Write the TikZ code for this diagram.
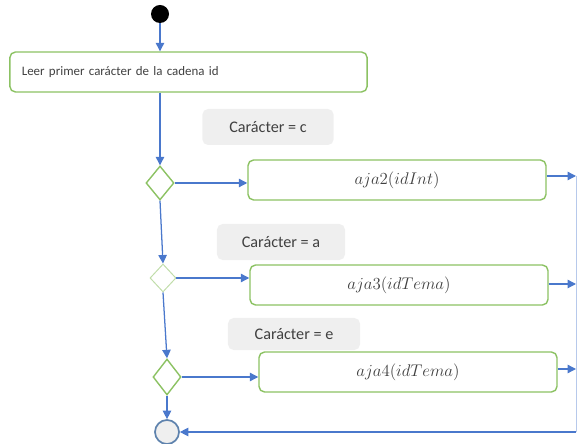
\documentclass[tikz,border=0pt]{standalone}
\usepackage{fontspec}
\setmainfont{Carlito}
\usetikzlibrary{shapes.geometric,arrows.meta}

\definecolor{actgreen}{HTML}{8CC263}
\definecolor{flowblue}{HTML}{4A78CC}
\definecolor{guardgray}{HTML}{EFEFEF}
\definecolor{endblue}{HTML}{5E82AD}
\definecolor{inkgray}{HTML}{404040}

\begin{document}
\begin{tikzpicture}[x=0.025cm, y=-0.025cm,
    action/.style={draw=actgreen, line width=1pt, rounded corners=4pt, fill=white,
        minimum width=7.45cm, minimum height=1cm, text=inkgray,
        font=\fontsize{12}{14}\selectfont},
    guard/.style={fill=guardgray, rounded corners=4pt, minimum height=0.9cm,
        text=inkgray, font=\fontsize{11.5}{13}\selectfont},
    decision/.style={diamond, draw=actgreen, line width=1pt, inner sep=0pt,
        minimum width=0.7cm, minimum height=0.85cm},
    flow/.style={draw=flowblue, line width=0.9pt, -{Triangle[length=6pt,width=6pt]}}]
    \useasboundingbox (0,0) rectangle (578,444);

    % Draw start and first action
    \node[circle, fill=black, minimum size=0.45cm, inner sep=0pt] (start) at (160,14) {};
    \node[action, minimum width=8.93cm, text width=8.33cm, align=left,
        font=\fontsize{9.2}{11}\selectfont] (leer) at (188.5,72) {Leer primer carácter de la cadena id};

    % Draw decisions and end
    \node[decision] (d1) at (160,183) {};
    \node[decision, draw=actgreen!55, line width=0.7pt, minimum width=0.65cm,
        minimum height=0.7cm] (d2) at (163,278) {};
    \node[decision, minimum height=0.9cm] (d3) at (167,377) {};
    \node[circle, draw=endblue, fill=guardgray, line width=1.2pt, minimum size=0.6cm,
        inner sep=0pt] (fin) at (167,432) {};

    % Draw guards
    \node[guard, minimum width=3.28cm] (gc) at (268,127) {Carácter = c};
    \node[guard, minimum width=3.2cm] (ga) at (281,242) {Carácter = a};
    \node[guard, minimum width=3.3cm, minimum height=0.8cm] (ge) at (294,334) {Carácter = e};

    % Draw actions
    \node[action] (a2) at (397,180) {$aja2(idInt)$};
    \node[action] (a3) at (399,285) {$aja3(idTema)$};
    \node[action] (a4) at (408,372) {$aja4(idTema)$};

    % Right rail
    \coordinate (r2) at (576,176);
    \coordinate (r3) at (576,284);
    \coordinate (r4) at (576,369);
    \coordinate (rb) at (576,432);

    % Draw flows
    \draw[flow] (start) -- (leer.north -| start);
    \draw[flow] (leer.south -| start) -- (d1.north);
    \draw[flow] (d1.south) -- (d2.north);
    \draw[flow] (d2.south) -- (d3.north);
    \draw[flow] (d3.south) -- (fin.north);
    \draw[flow] (d1.east) -- (a2.west |- d1.east);
    \draw[flow] (d2.east) -- (a3.west |- d2.east);
    \draw[flow] (d3.east) -- (a4.west |- d3.east);
    \draw[flow] (a2.east |- r2) -- (r2);
    \draw[flow] (a3.east |- r3) -- (r3);
    \draw[flow] (a4.east |- r4) -- (r4);
    \draw[flowblue!40, line width=0.6pt] (r2) -- (rb);
    \draw[flow] (rb) -- (fin.east);
\end{tikzpicture}
\end{document}
